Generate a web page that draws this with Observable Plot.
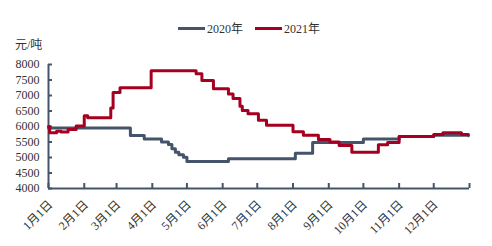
<!DOCTYPE html>
<html><head><meta charset="utf-8">
<script src="https://cdn.jsdelivr.net/npm/d3@7"></script>
<script src="https://cdn.jsdelivr.net/npm/@observablehq/plot@0.6"></script>
<style>
body{margin:0;background:#fff;}
#wrap{position:relative;width:492px;height:246px;font-family:"Liberation Serif","Noto Sans CJK SC",serif;color:#333;}
#wrap svg{position:absolute;left:0;top:0;}
.unit{position:absolute;left:15px;top:35px;font-size:12px;}
.legend{position:absolute;left:178px;top:19px;font-size:12px;display:flex;align-items:center;}
.legend .sw{display:inline-block;width:27px;height:3px;margin-right:2px;}
.legend .item{display:flex;align-items:center;margin-right:12px;}
</style></head><body><div id="wrap"></div>
<script>
const seriesNames = ["2020年", "2021年"];
const seriesColors = ["#44546a", "#a50021"];
const dates2020 = ["2021-01-01","2021-03-13","2021-03-25","2021-04-09","2021-04-15","2021-04-18","2021-04-21","2021-04-24","2021-04-28","2021-05-01","2021-06-06","2021-08-03","2021-08-18","2021-10-01","2021-11-01","2021-12-01","2021-12-31"];
const values2020 = [5950,5710,5600,5500,5420,5280,5170,5090,5010,4870,4960,5140,5480,5600,5680,5720,5700];
const dates2021 = ["2021-01-01","2021-01-02","2021-01-08","2021-01-12","2021-01-18","2021-01-25","2021-02-01","2021-02-04","2021-02-24","2021-02-26","2021-03-04","2021-03-31","2021-05-09","2021-05-14","2021-05-24","2021-06-06","2021-06-10","2021-06-16","2021-06-18","2021-06-23","2021-07-02","2021-07-09","2021-08-01","2021-08-10","2021-08-23","2021-09-02","2021-09-10","2021-09-21","2021-10-14","2021-10-22","2021-11-01","2021-12-01","2021-12-09","2021-12-25","2021-12-31"];
const values2021 = [6000,5800,5850,5820,5900,6020,6350,6280,6600,7100,7250,7800,7700,7480,7220,7050,6900,6650,6520,6410,6200,6040,5830,5720,5580,5500,5390,5170,5410,5480,5680,5740,5800,5740,5740];
const xTickLabels = ["1月1日","2月1日","3月1日","4月1日","5月1日","6月1日","7月1日","8月1日","9月1日","10月1日","11月1日","12月1日"];
const yTicks = [4000,4500,5000,5500,6000,6500,7000,7500,8000];
const unitLabel = "元/吨";

const parse = d3.utcParse("%Y-%m-%d");
const d20 = dates2020.map((d,i)=>({date:parse(d), value:values2020[i]}));
const d21 = dates2021.map((d,i)=>({date:parse(d), value:values2021[i]}));
const x0 = parse("2021-01-01"), x1 = parse("2022-01-01");
const monthTicks = d3.utcMonth.range(x0, d3.utcDay.offset(x1,1));
const fmt = d => d.getUTCFullYear() === 2021 ? xTickLabels[d.getUTCMonth()] : "";
const axisColor = "#44546a";

const chart = Plot.plot({
  width: 492, height: 246,
  marginLeft: 48, marginRight: 23, marginTop: 64, marginBottom: 58,
  style: {fontFamily: '"Liberation Serif","Noto Sans CJK SC",serif', fontSize: "12px", color: "#333", background: "transparent"},
  x: {type: "utc", domain: [x0, x1], label: null},
  y: {domain: [4000, 8000], label: null},
  marks: [
    Plot.axisY({ticks: yTicks, tickSize: 0, tickPadding: 9, tickFormat: d => String(d), fill: "#333", label: null}),
    Plot.axisY({ticks: yTicks, tickSize: 4, dx: 4, tickFormat: () => "", stroke: axisColor, strokeWidth: 2, label: null}),
    Plot.axisX({ticks: monthTicks, tickSize: 5, dy: -5, tickFormat: () => "", stroke: axisColor, strokeWidth: 2, label: null}),
    Plot.axisX({ticks: monthTicks, tickSize: 0, tickPadding: 14, dx: 2, tickRotate: -45, tickFormat: fmt, fill: "#333", label: null}),
    Plot.ruleX([x0], {stroke: axisColor, strokeWidth: 2}),
    Plot.ruleY([4000], {stroke: axisColor, strokeWidth: 2}),
    Plot.line(d20, {x: "date", y: "value", curve: "step-after", stroke: seriesColors[0], strokeWidth: 3}),
    Plot.line(d21, {x: "date", y: "value", curve: "step-after", stroke: seriesColors[1], strokeWidth: 3})
  ]
});
const wrap = document.getElementById("wrap");
wrap.appendChild(chart);
const unit = document.createElement("div");
unit.className = "unit"; unit.textContent = unitLabel; wrap.appendChild(unit);
const legend = document.createElement("div"); legend.className = "legend";
seriesNames.forEach((n,i)=>{
  const it = document.createElement("span"); it.className = "item";
  const sw = document.createElement("span"); sw.className = "sw"; sw.style.background = seriesColors[i];
  it.appendChild(sw); it.appendChild(document.createTextNode(n)); legend.appendChild(it);
});
wrap.appendChild(legend);
</script>
</body></html>
